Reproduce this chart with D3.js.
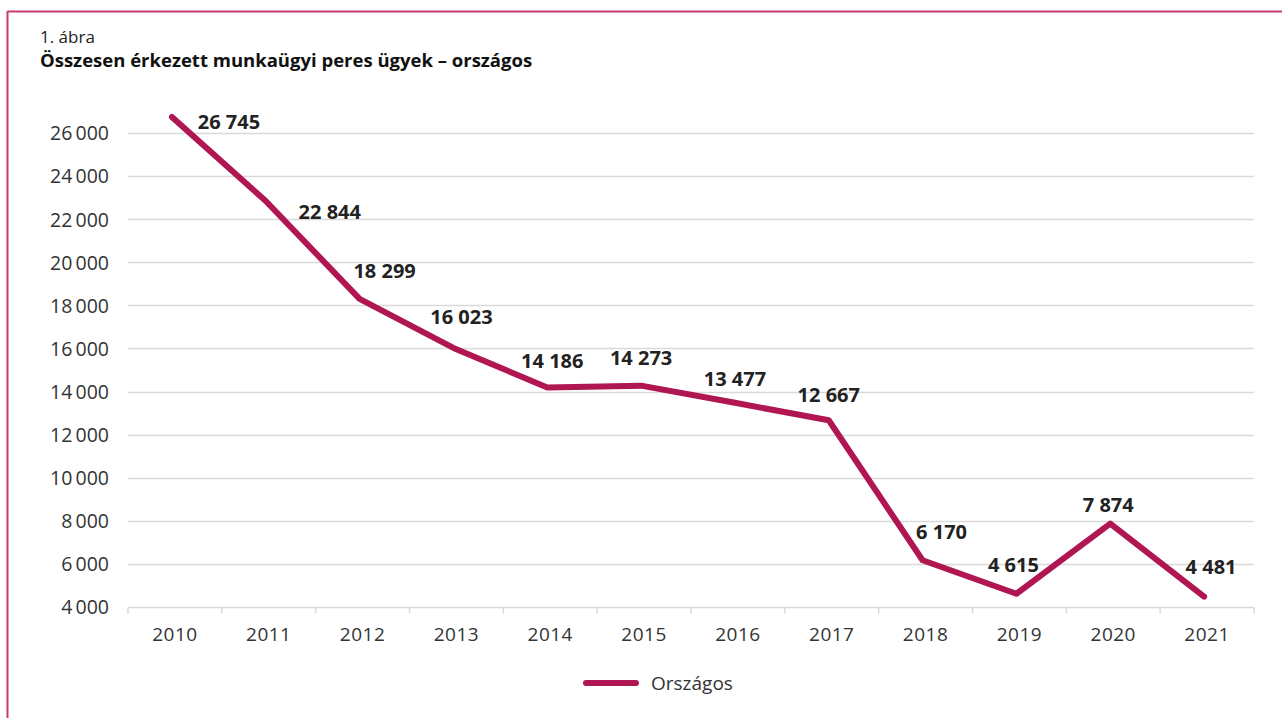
<!DOCTYPE html>
<html><head><meta charset="utf-8">
<script src="https://cdn.jsdelivr.net/npm/d3@7"></script>
<style>
html,body{margin:0;padding:0;background:#fff;}
svg{display:block;font-family:"Open Sans","Noto Sans",sans-serif;}
</style></head>
<body>
<script>
const years = ["2010","2011","2012","2013","2014","2015","2016","2017","2018","2019","2020","2021"];
const values = [26745,22844,18299,16023,14186,14273,13477,12667,6170,4615,7874,4481];
const yTicks = [4000,6000,8000,10000,12000,14000,16000,18000,20000,22000,24000,26000];
const seriesName = "Országos";
const figNo = "1. ábra";
const title = "Összesen érkezett munkaügyi peres ügyek – országos";
// label placement offsets (layout only)
const labelDx = [57,64,25,8,5,0,0,0,19,-3,-2,7];
const labelDy = [12,18,-21,-24,-20,-21,-17,-18,-21,-22,-12,-23];

const W=1282,H=718;
const svg=d3.select("body").append("svg").attr("width",W).attr("height",H);
const lineColor="#b01651", borderColor="#c53a72";

svg.append("line").attr("x1",7.5).attr("x2",W).attr("y1",11.5).attr("y2",11.5).attr("stroke",borderColor).attr("stroke-width",2);
svg.append("line").attr("x1",7.5).attr("x2",7.5).attr("y1",11).attr("y2",H).attr("stroke",borderColor).attr("stroke-width",2);

svg.append("text").attr("x",40).attr("y",43).attr("font-size",17).attr("fill","#222").text(figNo);
svg.append("text").attr("x",40).attr("y",67).attr("font-size",18.5).attr("font-weight","bold").attr("fill","#111").text(title);

const left=128,right=1254;
const x=d3.scaleBand().domain(years).range([left,right]);
const y=d3.scaleLinear().domain([4000,26000]).range([607,133]);

const g=svg.append("g");
// gridlines
g.selectAll("line.grid").data(yTicks.slice(1)).join("line")
 .attr("x1",left).attr("x2",right)
 .attr("y1",d=>Math.round(y(d))+0.5).attr("y2",d=>Math.round(y(d))+0.5)
 .attr("stroke","#d9d9d9").attr("stroke-width",1.5);

// y axis labels
const yAxis=d3.axisLeft(y).tickValues(yTicks).tickSize(0).tickPadding(0)
 .tickFormat(d=>d3.format(",")(d).replace(/,/g,"\u2009"));
const ya=svg.append("g").attr("transform",`translate(${left-19},0)`).call(yAxis);
ya.select(".domain").remove();
ya.selectAll("text").attr("font-size",19.5).attr("fill","#333").attr("font-family","'Open Sans','Noto Sans',sans-serif").attr("dy","0.35em");

// x axis
const xa=svg.append("g").attr("transform",`translate(0,${Math.round(y(4000))+0.5})`);
xa.append("line").attr("x1",left).attr("x2",right).attr("stroke","#d9d9d9").attr("stroke-width",1.5);
const bounds=years.map(d=>x(d)).concat([right]);
xa.selectAll("line.tk").data(bounds).join("line").attr("class","tk")
 .attr("x1",d=>d).attr("x2",d=>d).attr("y1",0).attr("y2",6)
 .attr("stroke","#d9d9d9").attr("stroke-width",1.5);
xa.selectAll("text").data(years).join("text")
 .attr("x",d=>x(d)+x.bandwidth()/2).attr("y",33)
 .attr("text-anchor","middle").attr("font-size",19).attr("letter-spacing",0.5).attr("fill","#333").text(d=>d);

// line
const pts=years.map((d,i)=>[x(d)+x.bandwidth()/2-3,y(values[i])]);
svg.append("path").datum(pts).attr("d",d3.line())
 .attr("fill","none").attr("stroke",lineColor).attr("stroke-width",6)
 .attr("stroke-linecap","round").attr("stroke-linejoin","round");

// labels
svg.selectAll("text.lbl").data(values).join("text").attr("class","lbl")
 .attr("x",(d,i)=>pts[i][0]+labelDx[i]).attr("y",(d,i)=>pts[i][1]+labelDy[i])
 .attr("text-anchor","middle").attr("font-size",20).attr("font-weight","bold").attr("fill","#222")
 .text(d=>d3.format(",")(d).replace(/,/g," "));

// legend
const lg=svg.append("g");
lg.append("line").attr("x1",586).attr("x2",636).attr("y1",683).attr("y2",683)
 .attr("stroke",lineColor).attr("stroke-width",6).attr("stroke-linecap","round");
lg.append("text").attr("x",651).attr("y",690).attr("font-size",19).attr("fill","#333").text(seriesName);
</script>
</body></html>
